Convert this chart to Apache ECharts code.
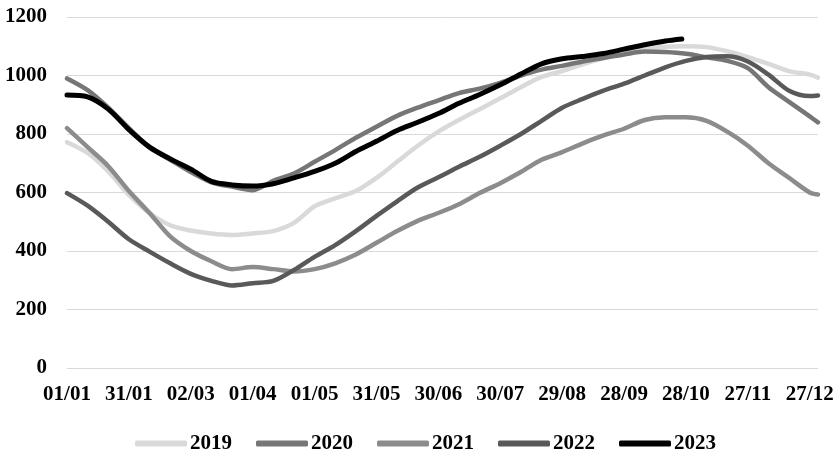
<!DOCTYPE html>
<html>
<head>
<meta charset="utf-8">
<script src="https://cdn.jsdelivr.net/npm/echarts@6/dist/echarts.min.js"></script>
<style>
html,body{margin:0;padding:0;background:#fff;}
#chart{width:840px;height:457px;}
</style>
</head>
<body>
<div id="chart"></div>
<script>
// Day of year (0 = 01/01)
var days = [0,10,20,30,40,50,60,70,80,90,100,110,120,130,140,150,160,170,180,190,200,210,220,230,240,250,260,270,280,290,300,310,320,330,340,350,360,364];
var days2023 = [0,10,20,30,40,50,60,70,80,90,100,110,120,130,140,150,160,170,180,190,200,210,220,230,240,250,260,270,280,290,298];

var tickLabels = ['01/01','31/01','02/03','01/04','01/05','31/05','30/06','30/07','29/08','28/09','28/10','27/11','27/12'];
var seriesNames = ['2019','2020','2021','2022','2023'];

var v2019 = [772,735,672,592,530,488,470,460,455,460,468,496,553,580,605,650,705,760,808,848,885,922,960,995,1015,1038,1060,1075,1090,1098,1100,1097,1083,1063,1040,1015,1003,993];
var v2020 = [990,950,890,820,755,712,670,635,620,608,640,665,705,745,787,825,862,890,915,940,955,975,1000,1020,1033,1048,1060,1072,1082,1080,1074,1062,1050,1025,960,910,860,840];
var v2021 = [820,755,690,605,530,450,400,365,338,345,338,330,338,358,388,428,468,503,530,560,598,632,670,712,738,768,795,818,848,857,857,845,808,760,700,650,600,593];
var v2022 = [598,555,500,440,398,358,322,298,282,290,298,335,380,420,468,520,570,617,652,688,722,760,800,845,890,920,948,972,1000,1028,1050,1063,1066,1048,1003,948,930,932];
var v2023 = [933,927,885,815,755,715,680,638,626,622,630,650,672,700,740,775,812,840,870,905,935,968,1005,1040,1057,1065,1075,1090,1105,1118,1125];

var colors = ['#d9d9d9','#767676','#8c8c8c','#595959','#000000'];

function pairs(xs, ys){ return xs.map(function(d,i){ return [d, ys[i]]; }); }

var dataSets = [pairs(days,v2019), pairs(days,v2020), pairs(days,v2021), pairs(days,v2022), pairs(days2023,v2023)];

var font = 'Liberation Serif';
var chart = echarts.init(document.getElementById('chart'), null, {renderer:'canvas'});
chart.setOption({
  animation:false,
  backgroundColor:'#ffffff',
  grid:{left:67,right:22,top:17,bottom:89,containLabel:false},
  legend:{
    left:130, top:428,
    itemWidth:52, itemHeight:6, itemGap:24,
    icon:'roundRect',
    textStyle:{fontFamily:font,fontWeight:'bold',fontSize:21,color:'#000',padding:[0,0,0,-2]},
    data:seriesNames
  },
  xAxis:{
    type:'value', min:0, max:364, interval:30,
    axisLine:{show:false}, axisTick:{show:false}, splitLine:{show:false},
    axisLabel:{
      margin:16, fontFamily:font, fontWeight:'bold', fontSize:21, color:'#000',
      showMaxLabel:false,
      formatter:function(v){ if (v % 30 !== 0) return ''; var i = v/30; return tickLabels[i] || ''; }
    }
  },
  yAxis:{
    type:'value', min:0, max:1200, interval:200,
    axisLine:{show:false}, axisTick:{show:false},
    splitLine:{lineStyle:{color:'#d9d9d9',width:1}},
    axisLabel:{margin:20, fontFamily:font, fontWeight:'bold', fontSize:21, color:'#000',
      formatter:function(v){ return String(v); }}
  },
  series: seriesNames.map(function(n,i){
    return {
      name:n, type:'line', data:dataSets[i], showSymbol:false, smooth:0.3,
      color:colors[i],
      lineStyle:{color:colors[i], width: i===4 ? 5 : 4.5, cap:'round', join:'round'},
      itemStyle:{color:colors[i]}
    };
  })
});
</script>
</body>
</html>
